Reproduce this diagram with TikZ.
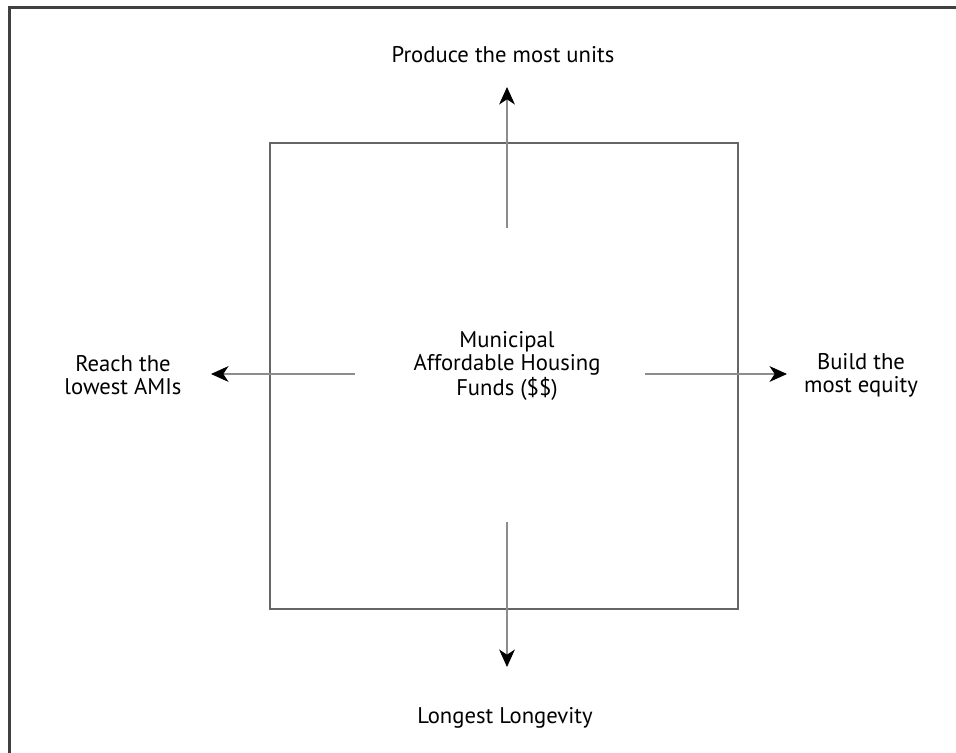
\documentclass[tikz,border=0pt]{standalone}
\usepackage{fontspec}
\setmainfont{PT Sans}
\usetikzlibrary{arrows.meta}
\begin{document}
\begin{tikzpicture}[x=0.02cm,y=-0.02cm,
  lbl/.style={font=\fontsize{12.9}{12.9}\selectfont, align=center, inner sep=0pt},
  conn/.style={draw=black!45, line width=0.6pt, -{Stealth[length=10pt,width=9pt,inset=3pt,color=black,fill=black]}},
  frameline/.style={draw=black!75, line width=1.4pt}]
\useasboundingbox (0,0) rectangle (956,753);
\draw[frameline] (9.5,753) -- (9.5,7.5) -- (956,7.5);
\node[draw=black!60, line width=1.5pt, minimum width=468*0.02cm, minimum height=466*0.02cm, inner sep=0pt] (box) at (504,376) {};
\node[lbl] (center) at (507,366) {Municipal\\Affordable Housing\\Funds (\$\$)};
\coordinate (us) at (507,228);
\coordinate (ls) at (355,374);
\coordinate (rs) at (645,374);
\coordinate (ds) at (507,522);
\node[lbl] (up) at (503,55) {Produce the most units};
\node[lbl] (left) at (123,375) {Reach the\\lowest AMIs};
\node[lbl] (right) at (861,375) {Build the\\most equity};
\node[lbl] (down) at (505,718) {Longest Longevity};
\coordinate (ue) at (507,87);
\coordinate (le) at (211,374);
\coordinate (re) at (787,374);
\coordinate (de) at (507,667);
\draw[conn] (us) -- (ue);
\draw[conn] (ls) -- (le);
\draw[conn] (rs) -- (re);
\draw[conn] (ds) -- (de);
\end{tikzpicture}
\end{document}
